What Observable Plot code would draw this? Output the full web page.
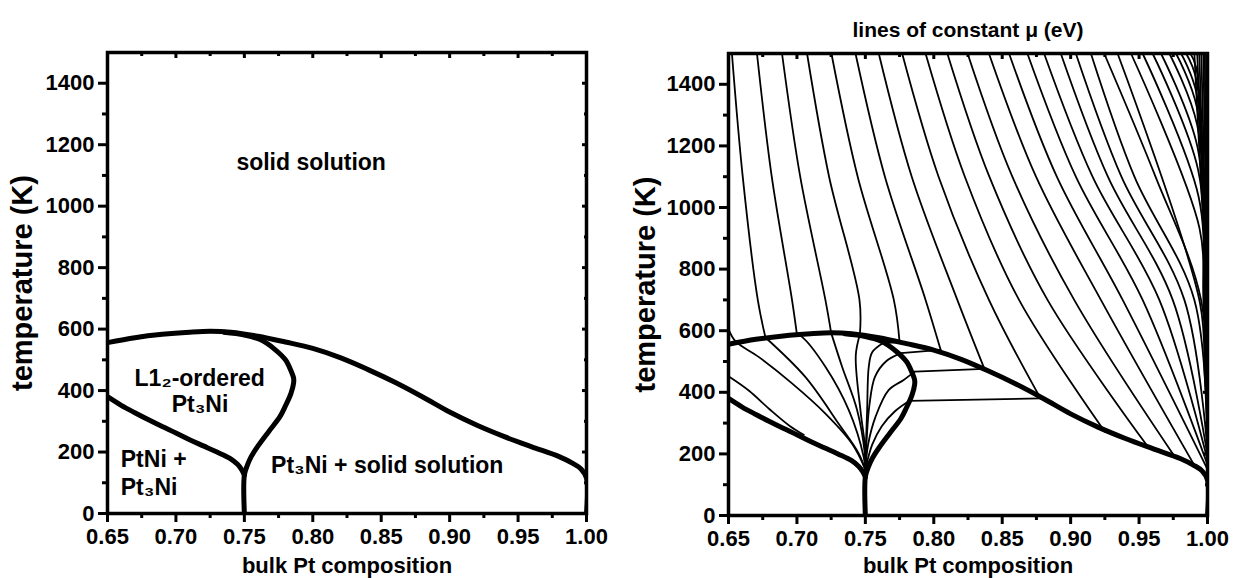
<!DOCTYPE html>
<html><head><meta charset="utf-8">
<script src="https://cdn.jsdelivr.net/npm/d3@7"></script>
<script src="https://cdn.jsdelivr.net/npm/@observablehq/plot@0.6"></script>
<style>
html,body{margin:0;padding:0;background:#fff;}
#wrap{position:relative;width:1233px;height:578px;overflow:hidden;background:#fff;}
#wrap svg{position:absolute;top:0;overflow:visible;}
</style></head><body><div id="wrap"></div>
<script>
// ---------------- data ----------------
const xTicks = [0.65, 0.70, 0.75, 0.80, 0.85, 0.90, 0.95, 1.00];
const xMinorTicks = [0.675, 0.725, 0.775, 0.825, 0.875, 0.925, 0.975];
const yTicks = [0, 200, 400, 600, 800, 1000, 1200, 1400];
const yMinorTicks = [100, 300, 500, 700, 900, 1100, 1300];
const xLabel = "bulk Pt composition";
const yLabel = "temperature (K)";
const rightTitle = "lines of constant μ (eV)";

// phase boundaries: [bulk Pt composition, temperature K]
const upperBoundary = [[0.65,556],[0.67,572],[0.69,583],[0.71,590],[0.725,593],[0.74,590],[0.76,577],[0.78,558],[0.80,537],[0.82,507],[0.84,469],[0.86,427],[0.88,380],[0.90,330],[0.92,287],[0.94,250],[0.96,217],[0.98,185],[0.99,163],[0.996,145],[1.0,115],[1.0,0]];
const orderedLoop = [[0.735,590],[0.750,581],[0.762,565],[0.772,535],[0.780,500],[0.784,465],[0.786,440],[0.786,425],[0.784,390],[0.780,350],[0.776,315],[0.768,268],[0.760,220],[0.755,185],[0.752,155],[0.750,125],[0.750,0]];
const lowerLeftBoundary = [[0.65,380],[0.66,352],[0.67,328],[0.68,305],[0.69,283],[0.70,262],[0.71,240],[0.72,220],[0.73,200],[0.74,178],[0.745,160],[0.748,143],[0.75,125]];

// lines of constant mu above the boundary (solid-solution region)
const muUpper = [
 [[0.6525,1500],[0.6604,1100],[0.6714,700],[0.677,578]],
 [[0.6708,1500],[0.6816,1100],[0.6964,700],[0.700,588]],
 [[0.6891,1500],[0.7024,1100],[0.7208,700],[0.725,593]],
 [[0.7074,1500],[0.7235,1100],[0.7457,700],[0.746,588]],
 [[0.7252,1500],[0.7444,1100],[0.7708,700],[0.775,563]],
 [[0.7428,1500],[0.7643,1100],[0.7940,700],[0.805,538]],
 [[0.7598,1500],[0.7839,1100],[0.8172,700],[0.837,476]],
 [[0.7769,1500],[0.8035,1100],[0.8403,700],[0.878,380]],
 [[0.7940,1500],[0.8227,1100],[0.8623,700],[0.925,272]],
 [[0.8099,1500],[0.8406,1100],[0.8831,700],[0.955,232]],
 [[0.8247,1500],[0.8574,1100],[0.9026,700],[0.975,198]],
 [[0.8403,1500],[0.8747,1100],[0.9221,700],[0.990,166]],
 [[0.8550,1500],[0.8899,1100],[0.9380,700],[1.0,150]],
 [[0.8684,1500],[0.9038,1100],[0.9526,700],[1.0,165]],
 [[0.8806,1500],[0.9160,1100],[0.9648,700],[1.0,180]],
 [[0.8928,1500],[0.9272,1100],[0.9746,700],[1.0,195]],
 [[0.9038,1500],[0.9371,1100],[0.9831,700],[1.0,210]],
 [[0.9148,1500],[0.9466,1100],[0.9904,700],[1.0,225]],
 [[0.9245,1500],[0.9620,1100],[0.9953,700],[1.0,240]],
 [[0.9343,1500],[0.9945,690],[0.9980,450],[1.0,255]],
 [[0.9441,1500],[0.9941,934],[0.9970,700],[0.9990,450],[1.0,270]],
 [[0.9526,1500],[0.9935,1035],[0.9975,700],[0.9992,450],[1.0,285]],
 [[0.9599,1500],[0.9931,1123],[0.9978,700],[0.9993,450],[1.0,300]],
 [[0.9660,1500],[0.9927,1196],[0.9981,700],[0.9994,450],[1.0,315]],
 [[0.9721,1500],[0.9924,1269],[0.9984,700],[0.9995,450],[1.0,330]],
 [[0.9770,1500],[0.9921,1328],[0.9987,700],[0.9996,450],[1.0,345]],
 [[0.9807,1500],[0.9919,1373],[0.9990,700],[1.0,360]],
 [[0.9844,1500],[0.9918,1416],[0.9992,700],[1.0,380]],
 [[0.9875,1500],[0.9917,1455],[0.9994,700],[1.0,400]],
 [[0.9904,1500],[0.9950,1100],[0.9996,700],[1.0,420]],
 [[0.9925,1500],[0.9960,1100],[0.9997,700],[1.0,450]],
 [[0.9940,1500],[0.9968,1100],[0.9998,700],[1.0,500]],
 [[0.9955,1500],[0.9976,1100],[1.0,600]],
 [[0.9970,1500],[0.9984,1100],[1.0,700]],
 [[0.9980,1500],[0.9990,1100],[1.0,800]],
 [[0.9990,1500],[0.9996,1100],[1.0,900]]
];
// tie lines across the two-phase region
const muTie = [
 [[0.775,563],[0.763,560]],
 [[0.805,538],[0.776,527]],
 [[0.837,476],[0.786,467]],
 [[0.878,380],[0.782,372]]
];
// lines of constant mu inside the ordered L1_2 region
const muInside = [
 [[0.65,452],[0.665,405],[0.68,345],[0.695,290],[0.705,262]],
 [[0.65,605],[0.655,566],[0.672,515],[0.6964,429],[0.7208,331],[0.7403,233],[0.75,150]],
 [[0.677,578],[0.7061,450],[0.7305,298],[0.7452,201],[0.75,146]],
 [[0.700,588],[0.7037,580],[0.7208,483],[0.7379,342],[0.7488,190],[0.75,146]],
 [[0.725,593],[0.733,483],[0.744,342],[0.7496,201],[0.75,146]],
 [[0.746,588],[0.7430,520],[0.7464,342],[0.7500,212],[0.75,146]],
 [[0.763,560],[0.755,530],[0.7525,483],[0.7513,342],[0.7503,212],[0.75,146]],
 [[0.776,527],[0.765,500],[0.757,450],[0.753,360],[0.751,250],[0.75,146]],
 [[0.786,467],[0.778,440],[0.767,407],[0.7574,320],[0.752,230],[0.75,146]],
 [[0.782,372],[0.772,340],[0.762,290],[0.755,230],[0.75,150]]
];

// region labels of the left panel
const labelsCentered = [
 {text: "solid solution", c: 0.7988, T: 1142},
 {text: "L1₂-ordered", c: 0.7174, T: 440},
 {text: "Pt₃Ni", c: 0.7176, T: 353}
];
const labelsLeftAligned = [
 {text: "PtNi +", c: 0.6597, T: 176},
 {text: "Pt₃Ni", c: 0.6597, T: 84},
 {text: "Pt₃Ni + solid solution", c: 0.7695, T: 155}
];

// ---------------- build ----------------
const toRows = (list, prefix) => list.flatMap((pts, i) => pts.map(([c, T]) => ({id: prefix + i, c, T})));
const boundaryRows = toRows([upperBoundary, orderedLoop, lowerLeftBoundary], "b");
const muRows = [...toRows(muUpper, "u"), ...toRows(muTie, "t"), ...toRows(muInside, "i")];

const FONT = "'Liberation Sans', Arial, Helvetica, sans-serif";
const blank = () => "";
const TICK_FS = 22;

function axisMarks(yLabelDx, xLabelDy) {
  return [
    Plot.axisX({ticks: xTicks, tickFormat: d3.format(".2f"), tickSize: 9, tickPadding: 6, strokeWidth: 3, label: null, fontSize: TICK_FS}),
    Plot.axisX({ticks: xMinorTicks, tickSize: 5, tickFormat: blank, strokeWidth: 3, label: null}),
    Plot.axisX({anchor: "top", ticks: xTicks, tickSize: 5, dy: 5, tickFormat: blank, strokeWidth: 3, label: null}),
    Plot.axisX({anchor: "top", ticks: xMinorTicks, tickSize: 3, dy: 3, tickFormat: blank, strokeWidth: 3, label: null}),
    Plot.axisY({ticks: yTicks, tickFormat: d3.format("d"), tickSize: 9, tickPadding: 4, strokeWidth: 3, label: null, fontSize: TICK_FS}),
    Plot.axisY({ticks: yMinorTicks, tickSize: 5, tickFormat: blank, strokeWidth: 3, label: null}),
    Plot.axisY({anchor: "right", ticks: yTicks, tickSize: 5, dx: -5, tickFormat: blank, strokeWidth: 3, label: null}),
    Plot.axisY({anchor: "right", ticks: yMinorTicks, tickSize: 3, dx: -3, tickFormat: blank, strokeWidth: 3, label: null}),
    Plot.text([xLabel], {frameAnchor: "bottom", text: d => d, dy: xLabelDy, fontSize: 22, fontWeight: "bold", textAnchor: "middle", lineAnchor: "middle"}),
    Plot.text([yLabel], {frameAnchor: "left", text: d => d, rotate: -90, dx: yLabelDx, fontSize: 29, fontWeight: "bold", textAnchor: "middle", lineAnchor: "middle"}),
    Plot.frame({strokeWidth: 3.5})
  ];
}

const common = {
  height: 578,
  x: {domain: [0.65, 1.0]},
  y: {domain: [0, 1500]},
  style: {fontFamily: FONT, fontWeight: "bold", fontSize: "21px", color: "black", background: "transparent", overflow: "visible"}
};

const left = Plot.plot({
  ...common,
  width: 616,
  marginLeft: 107, marginRight: 30, marginTop: 52, marginBottom: 65,
  marks: [
    Plot.line(boundaryRows, {x: "c", y: "T", z: "id", stroke: "black", strokeWidth: 5, curve: "catmull-rom", strokeLinejoin: "round", clip: true}),
    Plot.text(labelsCentered, {x: "c", y: "T", text: "text", textAnchor: "middle", fontSize: 23, fontWeight: "bold", lineAnchor: "middle"}),
    Plot.text(labelsLeftAligned, {x: "c", y: "T", text: "text", textAnchor: "start", fontSize: 23, fontWeight: "bold", lineAnchor: "middle"}),
    ...axisMarks(-85, 52)
  ]
});

const right = Plot.plot({
  ...common,
  width: 617,
  marginLeft: 112, marginRight: 26, marginTop: 53, marginBottom: 63,
  marks: [
    Plot.line(muRows, {x: "c", y: "T", z: "id", stroke: "black", strokeWidth: 1.8, curve: "catmull-rom", clip: true}),
    Plot.line(boundaryRows, {x: "c", y: "T", z: "id", stroke: "black", strokeWidth: 5, curve: "catmull-rom", strokeLinejoin: "round", clip: true}),
    Plot.text([rightTitle], {frameAnchor: "top", text: d => d, dy: -23, fontSize: 21, fontWeight: "bold", textAnchor: "middle", lineAnchor: "middle"}),
    ...axisMarks(-83, 50)
  ]
});

left.style.left = "0px";
right.style.left = "616px";
const wrap = document.getElementById("wrap");
wrap.appendChild(left);
wrap.appendChild(right);
</script></body></html>
